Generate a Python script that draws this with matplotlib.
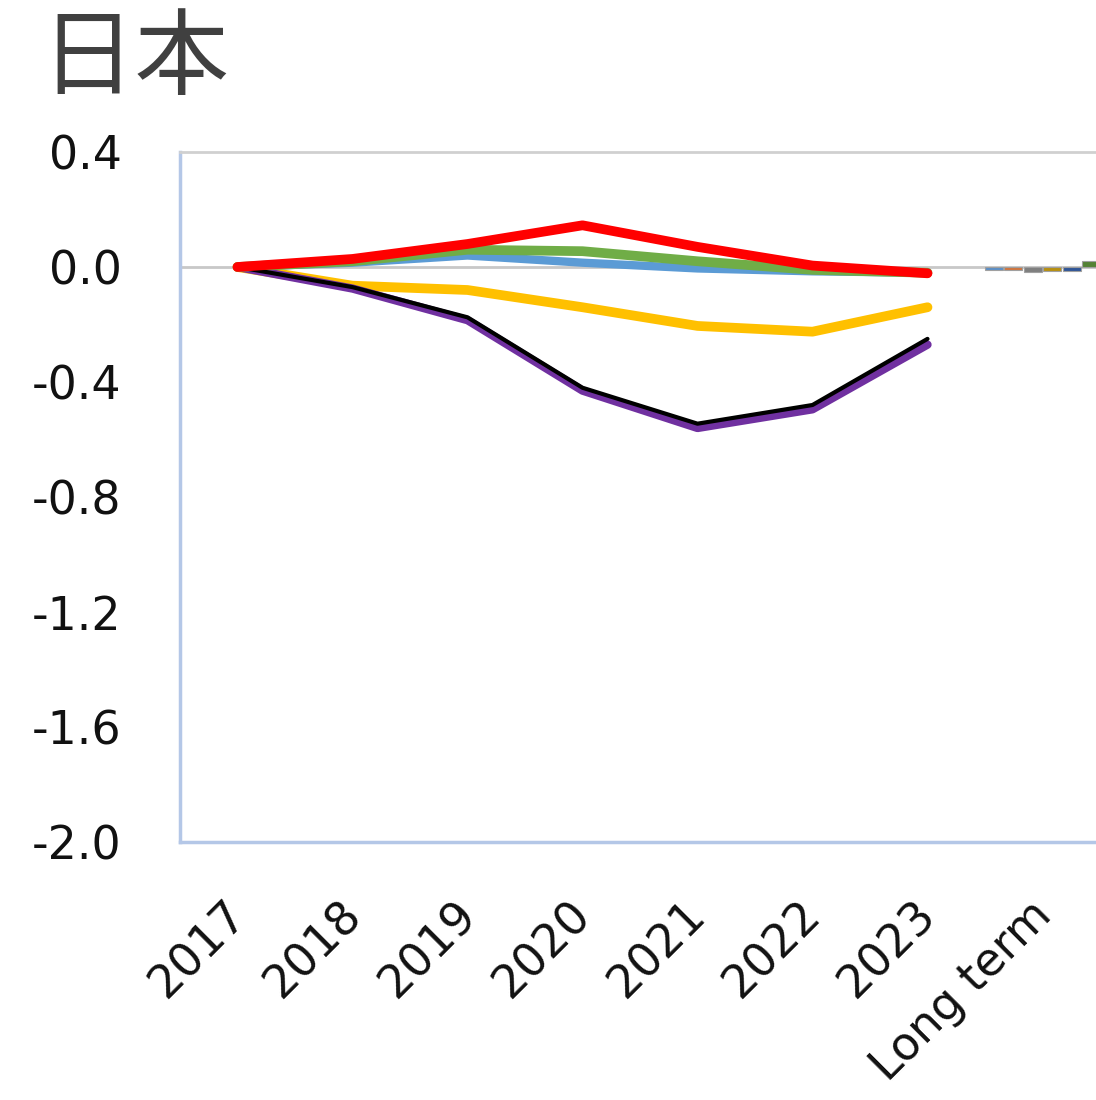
import matplotlib
matplotlib.use("Agg")
from matplotlib import pyplot as plt
import matplotlib.transforms as mtransforms
import numpy as np

plt.rcParams['font.family'] = ['DejaVu Sans', 'Noto Sans CJK JP']

years = ['2017', '2018', '2019', '2020', '2021', '2022', '2023']
categories = years + ['Long term']

red = [0.0, 0.028, 0.08, 0.145, 0.07, 0.005, -0.022]
green = [0.0, 0.02, 0.06, 0.055, 0.02, -0.01, -0.02]
blue = [0.0, 0.015, 0.04, 0.015, -0.005, -0.015, -0.02]
yellow = [0.0, -0.065, -0.08, -0.14, -0.205, -0.225, -0.14]
black = [0.0, -0.07, -0.175, -0.42, -0.545, -0.48, -0.25]
purple = [0.0, -0.075, -0.185, -0.43, -0.56, -0.495, -0.27]

# long-term bars (tiny)
lt_vals = [-0.012, -0.012, -0.016, -0.014, -0.014, 0.02]
lt_colors = ['#5b8fc7', '#d0743c', '#7f7f7f', '#b8900f', '#2f5597', '#548235']

fig = plt.figure(figsize=(10.96, 11.0), dpi=100)
ax = fig.add_axes([180/1096, 1 - 842/1100, 920/1096, 690/1100])

x = np.arange(len(years))
ax.axhline(0, color='#c8c8c8', lw=2, zorder=1)

ax.plot(x, blue, color='#5b9bd5', lw=6, solid_capstyle='round', zorder=3)
ax.plot(x, green, color='#70ad47', lw=7, solid_capstyle='round', zorder=4)
ax.plot(x, red, color='#ff0000', lw=7, solid_capstyle='round', zorder=5)
ax.plot(x, yellow, color='#ffc000', lw=7, solid_capstyle='round', zorder=3)
ax.plot(x, purple, color='#7030a0', lw=6, solid_capstyle='round', zorder=3)
ax.plot(x, black, color='#000000', lw=3, solid_capstyle='round', zorder=4)

bw = 0.155
offs = (np.arange(len(lt_vals)) - 2.5) * 0.17
ax.bar(7 + offs, lt_vals, width=bw, color=lt_colors, edgecolor='#a0a0a0',
       linewidth=0.8, zorder=2)

ax.set_xlim(-0.5, 7.5)
ax.set_ylim(-2.0, 0.4)
ax.set_yticks([0.4, 0.0, -0.4, -0.8, -1.2, -1.6, -2.0])
ax.set_yticklabels(['0.4', '0.0', '-0.4', '-0.8', '-1.2', '-1.6', '-2.0'])
ax.set_xticks(np.arange(len(categories)))
ax.set_xticklabels(categories, rotation=45, ha='right', rotation_mode='anchor')
ax.tick_params(axis='both', length=0, labelsize=33, colors='#111111')
ax.tick_params(axis='y', pad=42)
ax.tick_params(axis='x', pad=36)
shift = mtransforms.ScaledTranslation(-14/100, 0, fig.dpi_scale_trans)
for lab in ax.get_xticklabels():
    lab.set_transform(lab.get_transform() + shift)

for s in ['top', 'right']:
    ax.spines[s].set_color('#d0d0d0')
    ax.spines[s].set_linewidth(2)
for s in ['left', 'bottom']:
    ax.spines[s].set_color('#b4c7e7')
    ax.spines[s].set_linewidth(2.5)

fig.text(40/1096, 1 - 60/1100, '日本', fontsize=68, color='#404040',
         va='center', ha='left', family='Noto Sans CJK JP')

fig.savefig('out.png', dpi=100)
